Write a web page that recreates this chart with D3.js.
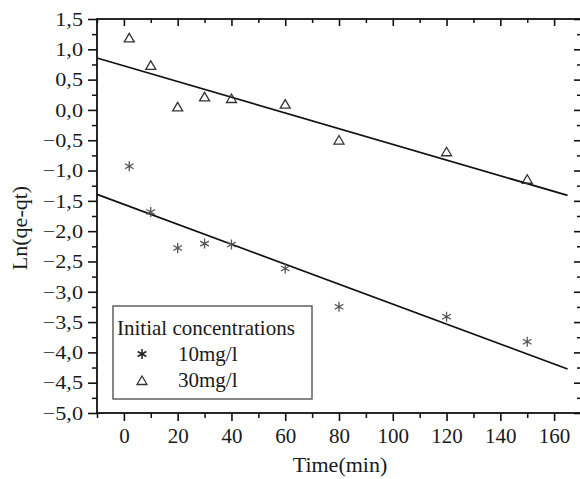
<!DOCTYPE html>
<meta charset="utf-8">
<style>
body { margin: 0; background: #fff; }
text { font-family: 'Liberation Serif', 'Times New Roman', serif; fill: #1a1a1a; }
</style>
<body>
<div id="chart"></div>
<script src="https://cdnjs.cloudflare.com/ajax/libs/d3/7.8.5/d3.min.js"></script>
<script>

// data
var times   = [2, 10, 20, 30, 40, 60, 80, 120, 150];
var lnq10   = [-0.93, -1.685, -2.277, -2.205, -2.22, -2.617, -3.248, -3.413, -3.824];
var lnq30   = [1.18, 0.727, 0.043, 0.207, 0.18, 0.087, -0.505, -0.698, -1.152];
var fitT    = [-10, 165];
var fit10   = [-1.394, -4.273];
var fit30   = [0.856, -1.41];
var xTicks  = [0, 20, 40, 60, 80, 100, 120, 140, 160];
var yTicks  = [1.5, 1.0, 0.5, 0.0, -0.5, -1.0, -1.5, -2.0, -2.5, -3.0, -3.5, -4.0, -4.5, -5.0];
var legendTitle = "Initial concentrations";
var seriesNames = ["10mg/l", "30mg/l"];

var margin = {top: 19, left: 97},
    width = 484,
    height = 394;

var svg = d3.select("#chart").append("svg")
    .attr("width", 580)
    .attr("height", 479)
  .append("g")
    .attr("transform", "translate(" + margin.left + "," + margin.top + ")");

var x = d3.scaleLinear().domain([-10, 170]).range([0, width]);
var y = d3.scaleLinear().domain([-5, 1.5]).range([height, 0]);

var fmt = function(v) {
  return (v < 0 ? "\u2212" : "") + Math.abs(v).toFixed(1).replace(".", ",");
};

var minorX = d3.range(-10, 171, 10).filter(function(d) { return d % 20 !== 0; });
var minorY = d3.range(-4.75, 1.5, 0.5);

// minor ticks
function minor(g, axis) {
  g.call(axis).select(".domain").remove();
  g.selectAll("text").remove();
  g.selectAll("line").attr("stroke", "#111").attr("stroke-width", 1.5);
}
svg.append("g").attr("transform", "translate(0," + height + ")")
  .call(minor, d3.axisBottom(x).tickValues(minorX).tickSize(5));
svg.append("g")
  .call(minor, d3.axisTop(x).tickValues(minorX).tickSize(-4));
svg.append("g")
  .call(minor, d3.axisLeft(y).tickValues(minorY).tickSize(5));
svg.append("g").attr("transform", "translate(" + width + ",0)")
  .call(minor, d3.axisRight(y).tickValues(minorY).tickSize(-4));

// major ticks
var xAxis = svg.append("g")
    .attr("transform", "translate(0," + height + ")")
    .call(d3.axisBottom(x).tickValues(xTicks).tickSize(8));
xAxis.select(".domain").remove();
xAxis.selectAll("line").attr("stroke", "#111").attr("stroke-width", 1.6);
xAxis.selectAll("text")
    .attr("y", 30).attr("dy", null)
    .style("font-size", "21px")
    .style("font-family", "Liberation Serif")
    .attr("fill", "#1a1a1a");

var yAxis = svg.append("g")
    .call(d3.axisLeft(y).tickValues(yTicks).tickSize(9).tickFormat(fmt));
yAxis.select(".domain").remove();
yAxis.selectAll("line").attr("stroke", "#111").attr("stroke-width", 1.6);
yAxis.selectAll("text")
    .attr("x", 0)
    .attr("dy", "0.34em")
    .attr("transform", "translate(-14,0) scale(1.2,1)")
    .style("font-size", "18.5px")
    .style("font-family", "Liberation Serif")
    .attr("fill", "#1a1a1a");

var topAxis = svg.append("g")
    .call(d3.axisTop(x).tickValues(xTicks).tickSize(-7).tickFormat(""));
topAxis.select(".domain").remove();
topAxis.selectAll("line").attr("stroke", "#111").attr("stroke-width", 1.6);

var rightAxis = svg.append("g")
    .attr("transform", "translate(" + width + ",0)")
    .call(d3.axisRight(y).tickValues(yTicks).tickSize(-7).tickFormat(""));
rightAxis.select(".domain").remove();
rightAxis.selectAll("line").attr("stroke", "#111").attr("stroke-width", 1.6);

// frame
svg.append("rect")
    .attr("x", 0).attr("y", 0)
    .attr("width", width).attr("height", height)
    .style("fill", "none")
    .style("stroke", "#111")
    .style("stroke-width", 1.8);

// fitted lines
var line = d3.line()
    .x(function(d) { return x(d[0]); })
    .y(function(d) { return y(d[1]); });

svg.append("path")
    .datum(d3.zip(fitT, fit30))
    .attr("d", line)
    .style("fill", "none")
    .style("stroke", "#111")
    .style("stroke-width", 1.7);

svg.append("path")
    .datum(d3.zip(fitT, fit10))
    .attr("d", line)
    .style("fill", "none")
    .style("stroke", "#111")
    .style("stroke-width", 1.7);

// markers
var starPath = (function() {
  var r = 5, p = "";
  [90, 30, -30].forEach(function(a) {
    var c = Math.cos(a * Math.PI / 180) * r, s = Math.sin(a * Math.PI / 180) * r;
    p += "M" + (-c) + "," + (-s) + "L" + c + "," + s;
  });
  return p;
})();
var triPath = "M0,-5L5,3.5L-5,3.5Z";

svg.selectAll(".star")
    .data(d3.zip(times, lnq10))
  .enter().append("path")
    .attr("class", "star")
    .attr("d", starPath)
    .attr("transform", function(d) { return "translate(" + x(d[0]) + "," + y(d[1]) + ")"; })
    .style("fill", "none")
    .style("stroke", "#555")
    .style("stroke-width", 1.3);

svg.selectAll(".tri")
    .data(d3.zip(times, lnq30))
  .enter().append("path")
    .attr("class", "tri")
    .attr("d", triPath)
    .attr("transform", function(d) { return "translate(" + x(d[0]) + "," + y(d[1]) + ")"; })
    .style("fill", "none")
    .style("stroke", "#333")
    .style("stroke-width", 1.3);

// legend
var lg = svg.append("g").attr("transform", "translate(16,287)");
lg.append("rect")
    .attr("width", 199).attr("height", 93)
    .style("fill", "#fff")
    .style("stroke", "#555")
    .style("stroke-width", 1.4);
lg.append("text")
    .attr("x", 4).attr("y", 29)
    .style("font-size", "21px")
    .text(legendTitle);
lg.append("path")
    .attr("d", starPath)
    .attr("transform", "translate(29,48)")
    .style("fill", "none").style("stroke", "#222").style("stroke-width", 1.5);
lg.append("text")
    .attr("x", 65).attr("y", 55)
    .style("font-size", "21px")
    .text(seriesNames[0]);
lg.append("path")
    .attr("d", triPath)
    .attr("transform", "translate(29,75)")
    .style("fill", "none").style("stroke", "#333").style("stroke-width", 1.3);
lg.append("text")
    .attr("x", 65).attr("y", 81)
    .style("font-size", "21px")
    .text(seriesNames[1]);

// axis titles
svg.append("text")
    .attr("x", 243)
    .attr("y", 453)
    .attr("text-anchor", "middle")
    .style("font-size", "22px")
    .text("Time(min)");

svg.append("text")
    .attr("transform", "rotate(-90)")
    .attr("x", -209)
    .attr("y", -70)
    .attr("text-anchor", "middle")
    .style("font-size", "22px")
    .text("Ln(qe-qt)");

</script>
</body>
